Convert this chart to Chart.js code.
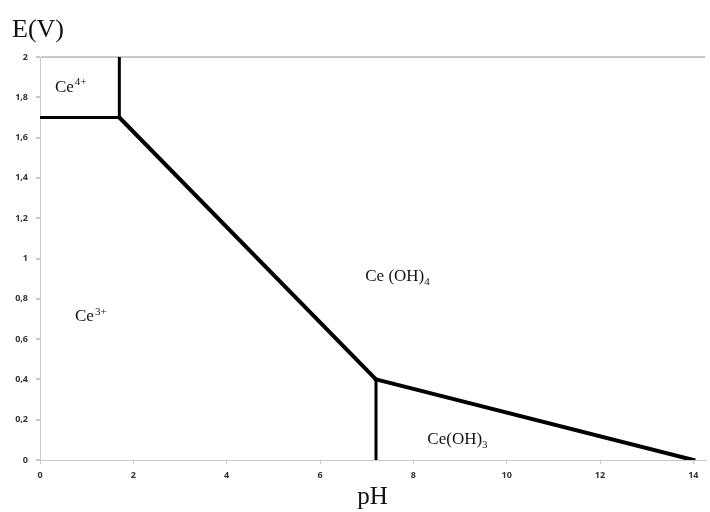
<!DOCTYPE html>
<html lang="en">
<head>
    <meta charset="UTF-8">
    <title>Diagramme E-pH du cérium</title>
    <script src="https://cdn.jsdelivr.net/npm/chart.js"></script>
    <style>
        body { margin: 0; padding: 0; background: #fff; }
        .chart-container { width: 710px; height: 512px; position: relative; }
    </style>
</head>
<body>
    <div class="chart-container">
        <canvas id="pourbaixChart"></canvas>
    </div>

    <script>
        // boundary segments (pH, E in V)
        const ce3Ce4_pH = [0, 1.7];
        const ce3Ce4_E = [1.7, 1.7];
        const ce4Hydr_pH = [1.7, 1.7];
        const ce4Hydr_E = [1.7, 2];
        const ce3Oh4_pH = [1.7, 7.2];
        const ce3Oh4_E = [1.7, 0.4];
        const ce3Oh3_pH = [7.2, 7.2];
        const ce3Oh3_E = [0, 0.4];
        const oh4Oh3_pH = [7.2, 14];
        const oh4Oh3_E = [0.4, 0];

        const pHTicks = [0, 2, 4, 6, 8, 10, 12, 14];

        // region labels: [base, subscript/superscript, mode, pH, E]
        const regionLabels = [
            ['Ce', '4+', 'sup', 0.32, 1.85],
            ['Ce', '3+', 'sup', 0.75, 0.71],
            ['Ce (OH)', '4', 'sub', 6.97, 0.91],
            ['Ce(OH)', '3', 'sub', 8.3, 0.1]
        ];

        const segments = [
            [ce3Ce4_pH, ce3Ce4_E, 3],
            [ce4Hydr_pH, ce4Hydr_E, 3],
            [ce3Oh4_pH, ce3Oh4_E, 4],
            [ce3Oh3_pH, ce3Oh3_E, 3],
            [oh4Oh3_pH, oh4Oh3_E, 4]
        ];

        const datasets = segments.map(([xs, ys, w]) => ({
            data: xs.map((x, i) => ({ x: x, y: ys[i] })),
            showLine: true,
            borderColor: '#000',
            borderWidth: w,
            pointRadius: 0,
            borderCapStyle: 'square',
            fill: false
        }));

        const serif = '"Liberation Serif", "DejaVu Serif", serif';

        const textPlugin = {
            id: 'textPlugin',
            afterDatasetsDraw(chart) {
                const c = chart.ctx;
                const xs = chart.scales.x, ys = chart.scales.y;
                c.save();
                c.fillStyle = '#111';
                c.textBaseline = 'middle';
                c.textAlign = 'left';
                regionLabels.forEach(([base, idx, mode, px, py]) => {
                    const x = xs.getPixelForValue(px);
                    const y = ys.getPixelForValue(py);
                    c.font = '17px ' + serif;
                    c.fillText(base, x, y);
                    const w = c.measureText(base).width;
                    c.font = '11px ' + serif;
                    c.fillText(idx, x + w + (mode === 'sub' ? 0 : 1), mode === 'sup' ? y - 5 : y + 5);
                });
                c.font = '26px ' + serif;
                c.fillText('E(V)', 12, 30);
                c.restore();
            }
        };

        const ctx = document.getElementById('pourbaixChart').getContext('2d');
        new Chart(ctx, {
            type: 'scatter',
            data: { datasets: datasets },
            options: {
                responsive: true,
                maintainAspectRatio: false,
                animation: false,
                layout: { padding: { top: 57, right: 5, left: 0, bottom: 0 } },
                scales: {
                    x: {
                        type: 'linear',
                        min: 0,
                        max: 14.25,
                        afterBuildTicks: axis => {
                            axis.ticks = pHTicks.map(v => ({ value: v }));
                        },
                        afterFit: axis => { axis.height = 52; },
                        ticks: {
                            maxRotation: 0,
                            autoSkip: false,
                            color: '#333',
                            padding: 6,
                            font: { family: '"Open Sans", sans-serif', size: 9, weight: 'bold' }
                        },
                        grid: {
                            drawOnChartArea: false,
                            tickLength: 4,
                            tickColor: '#c8c8c8'
                        },
                        border: { color: '#c8c8c8', width: 1 },
                        title: {
                            display: true,
                            text: 'pH',
                            color: '#111',
                            padding: { top: 0, bottom: 0 },
                            font: { family: serif, size: 25 }
                        }
                    },
                    y: {
                        min: 0,
                        max: 2,
                        afterFit: axis => { axis.width = 40; },
                        ticks: {
                            stepSize: 0.2,
                            color: '#333',
                            padding: 8,
                            font: { family: '"Open Sans", sans-serif', size: 9, weight: 'bold' },
                            callback: v => String(Math.round(v * 10) / 10).replace('.', ',')
                        },
                        grid: {
                            color: c => (c.tick && c.tick.value === 2) ? '#c8c8c8' : 'rgba(0,0,0,0)',
                            lineWidth: 2,
                            tickLength: 4,
                            tickColor: '#c8c8c8'
                        },
                        border: { color: '#c8c8c8', width: 1 }
                    }
                },
                plugins: {
                    legend: { display: false },
                    tooltip: { enabled: false }
                }
            },
            plugins: [textPlugin]
        });
    </script>
</body>
</html>
